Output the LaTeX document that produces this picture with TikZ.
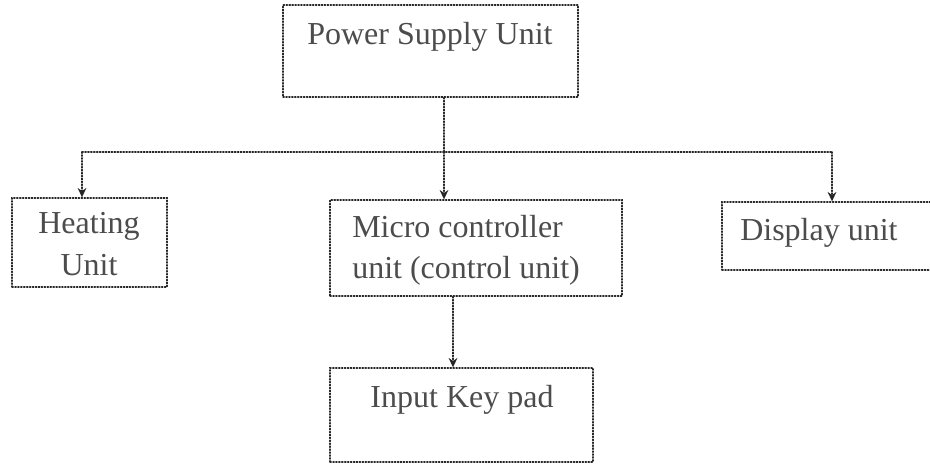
\documentclass[tikz,border=0pt]{standalone}
\usepackage{fontspec}
\setmainfont{Liberation Serif}
\usetikzlibrary{arrows.meta}

\begin{document}
\begin{tikzpicture}[x=0.75pt,y=-0.75pt,>={Stealth[length=7pt,width=6.5pt]},
  font=\fontsize{24}{31}\selectfont,line cap=round,
  unitbox/.style={draw=black!85,dash pattern=on 0.9pt off 1.3pt,line width=1pt,inner sep=0pt},
  unittext/.style={text=black!70,inner sep=0pt},
  link/.style={draw=black!85,dash pattern=on 0.9pt off 1.3pt,line width=1.1pt}]
\useasboundingbox (0,0) rectangle (930,464);
\node[unitbox,minimum width=221.25pt,minimum height=69pt] (psu) at (430.5,51) {};
\node[unitbox,minimum width=116.25pt,minimum height=66.75pt] (heat) at (89.5,242.5) {};
\node[unitbox,minimum width=219pt,minimum height=72pt] (mcu) at (476,248) {};
\node[unitbox,minimum width=160.5pt,minimum height=51pt] (disp) at (829,236) {};
\node[unitbox,minimum width=197.25pt,minimum height=70.5pt] (keypad) at (461.5,415) {};
\node[unittext,anchor=west] (psutext) at (307,37) {Power Supply Unit};
\node[unittext,align=center] (heattext) at (89,244) {Heating\\Unit};
\node[unittext,align=left,anchor=west] (mcutext) at (352,250) {Micro controller\\unit (control unit)};
\node[unittext,anchor=west] (disptext) at (740,233) {Display unit};
\node[unittext] (keytext) at (462,400) {Input Key pad};
\coordinate (bus) at (444,152);
\coordinate (busL) at (82,152);
\coordinate (busR) at (832,152);
\coordinate (kp) at (453,0);
\draw[link] (psu.south -| bus) -- (bus);
\draw[link] (busL) -- (busR);
\draw[link,->] (busL) -- (busL |- heat.north);
\draw[link,->] (bus) -- (bus |- mcu.north);
\draw[link,->] (busR) -- (busR |- disp.north);
\draw[link,->] (kp |- mcu.south) -- (kp |- keypad.north);
\end{tikzpicture}
\end{document}
